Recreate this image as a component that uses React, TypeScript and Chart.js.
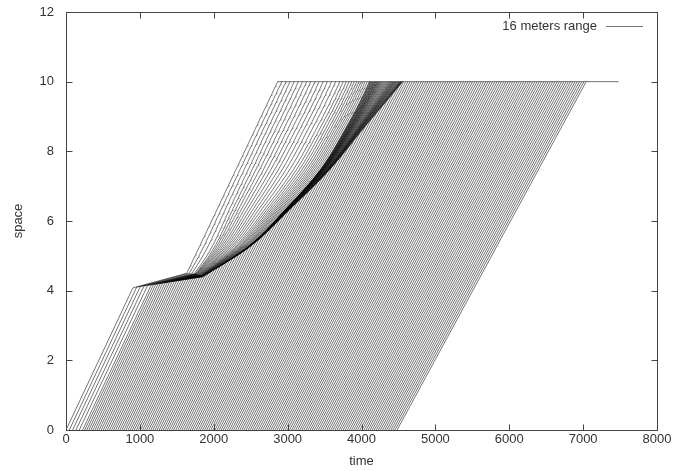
import React, { useEffect, useRef } from "react";
import { Chart, registerables } from "chart.js";

Chart.register(...registerables);

// ---------------- values ----------------
const seriesLabel = "16 meters range";

// time (ms) at which each vehicle is at space 0
const departureTimes = [
  0, 45, 90, 135, 180, 225, 253, 281, 309, 337, 365, 393, 421, 449, 477, 505, 533, 561, 589, 617,
  645, 673, 701, 729, 757, 785, 813, 841, 869, 897, 925, 953, 981, 1009, 1037, 1065, 1093, 1121,
  1149, 1177, 1205, 1233, 1261, 1289, 1317, 1345, 1373, 1401, 1429, 1457, 1485, 1513, 1541, 1569,
  1597, 1625, 1653, 1681, 1709, 1737, 1765, 1793, 1821, 1849, 1877, 1905, 1933, 1961, 1989, 2017,
  2045, 2073, 2101, 2129, 2157, 2185, 2213, 2241, 2269, 2297, 2325, 2353, 2381, 2409, 2437, 2465,
  2493, 2521, 2549, 2577, 2605, 2633, 2661, 2689, 2717, 2745, 2773, 2801, 2829, 2857, 2885, 2913,
  2941, 2969, 2997, 3025, 3053, 3081, 3109, 3137, 3165, 3193, 3221, 3249, 3277, 3305, 3333, 3361,
  3389, 3417, 3445, 3473, 3501, 3529, 3557, 3585, 3613, 3641, 3669, 3697, 3725, 3753, 3781, 3809,
  3837, 3865, 3893, 3921, 3949, 3977, 4005, 4033, 4061, 4089, 4117, 4145, 4173, 4201, 4229, 4257,
  4285, 4313, 4341, 4369, 4397, 4425, 4453, 4481,
];

// free-flow pace (ms per unit of space) of the first and of the last vehicle
const freePace = [222, 256];

// tail of the queue: where the first and the last queued vehicle slow down
const queueTailTimes = [905, 1851];
const queueTailSpace = [4.08, 4.4];

// queued vehicles: space at which each one leaves the queue, time it reaches space 10
const firstExitTime = 1635;
const queueExitSpace = [
  4.5, 4.5, 4.49, 4.49, 4.48, 4.48, 4.47, 4.47, 4.46, 4.46, 4.46, 4.45, 4.45, 4.45,
  4.44, 4.44, 4.44, 4.43, 4.43, 4.43, 4.42, 4.42, 4.42, 4.41, 4.41, 4.41, 4.4, 4.4,
];
const queueArrivalTimes = [
  2865, 2921, 2977, 3033, 3089, 3145, 3201, 3257, 3313, 3369, 3425, 3481, 3537, 3593,
  3649, 3705, 3751, 3793, 3832, 3868, 3902, 3934, 3964, 3993, 4021, 4049, 4077, 4104,
];
// just after release, the first part of the queue takes this share of the fan's width
const queueSpreadBottom = [0.15, 0.42];

// right edge of the dark band (time at given space)
const bandSpace = [4.4, 5.26, 6.41, 7.47, 8.71, 10.0];
const bandEdgeTimes = [1851, 2486, 3068, 3568, 4050, 4560];
const bandSpreadLinear = 25; // ms per unit
const bandSpreadCubic = 1.8; // ms per unit^3

const targetSpace = 10;
const holdEndTime = 7480;

const xTicks = [0, 1000, 2000, 3000, 4000, 5000, 6000, 7000, 8000];
const yTicks = [0, 2, 4, 6, 8, 10, 12];

const lineColor = "rgba(0,0,0,0.55)";
const textColor = "#333";
const frameColor = "#444";
const fontFamily = '"Liberation Sans", Arial, Helvetica, sans-serif';

// ---------------- helpers ----------------
function monotoneSpline(xs: number[], ys: number[]) {
  const n = xs.length;
  const d: number[] = [];
  for (let i = 0; i < n - 1; i++) d.push((ys[i + 1] - ys[i]) / (xs[i + 1] - xs[i]));
  const m: number[] = new Array(n);
  m[0] = d[0];
  m[n - 1] = d[n - 2];
  for (let i = 1; i < n - 1; i++) m[i] = d[i - 1] * d[i] <= 0 ? 0 : (d[i - 1] + d[i]) / 2;
  for (let i = 0; i < n - 1; i++) {
    if (d[i] === 0) { m[i] = 0; m[i + 1] = 0; continue; }
    const a = m[i] / d[i], b = m[i + 1] / d[i];
    const s = a * a + b * b;
    if (s > 9) { const t = 3 / Math.sqrt(s); m[i] = t * a * d[i]; m[i + 1] = t * b * d[i]; }
  }
  return (x: number) => {
    if (x <= xs[0]) return ys[0] + m[0] * (x - xs[0]);
    if (x >= xs[n - 1]) return ys[n - 1] + m[n - 1] * (x - xs[n - 1]);
    let i = 0;
    while (x > xs[i + 1]) i++;
    const h = xs[i + 1] - xs[i];
    const t = (x - xs[i]) / h;
    const t2 = t * t, t3 = t2 * t;
    return (2 * t3 - 3 * t2 + 1) * ys[i] + (t3 - 2 * t2 + t) * h * m[i] +
      (-2 * t3 + 3 * t2) * ys[i + 1] + (t3 - t2) * h * m[i + 1];
  };
}

function buildTrajectories() {
  const N = departureTimes.length;
  const Q = queueArrivalTimes.length;
  const R = monotoneSpline(bandSpace, bandEdgeTimes);
  const s0 = bandSpace[0];
  const g = (d: number) => (d <= 0 ? 0 : bandSpreadLinear * d + bandSpreadCubic * d * d * d);
  const L = (s: number) => R(s) - g(s - s0);
  const A = (s: number) =>
    firstExitTime + (s - queueExitSpace[0]) * (queueArrivalTimes[0] - firstExitTime) / (targetSpace - queueExitSpace[0]);
  const Ltop = L(targetSpace);
  const c = (queueTailSpace[1] - queueTailSpace[0]) / (queueTailTimes[1] - queueTailTimes[0]);
  const [qu, qe] = queueSpreadBottom;
  const bottomMap = (u: number) => (u < qu ? (u * qe) / qu : qe + ((u - qu) * (1 - qe)) / (1 - qu));
  const grid: number[] = [];
  for (let i = 0; i <= 112; i++) grid.push(Math.round((s0 + i * 0.05) * 100) / 100);

  const all: { x: number; y: number }[][] = [];
  for (let k = 0; k < N; k++) {
    const t0 = departureTimes[k];
    const P = freePace[0] + (freePace[1] - freePace[0]) * k / (N - 1);
    const F = (s: number) => t0 + P * s;
    const pts: { x: number; y: number }[] = [{ x: t0, y: 0 }];
    if (k < Q) {
      const ks = (queueTailSpace[0] + (t0 - queueTailTimes[0]) * c) / (1 - P * c);
      const kt = F(ks);
      pts.push({ x: kt, y: ks });
      const u = Math.min(1, (queueArrivalTimes[k] - queueArrivalTimes[0]) / (Ltop - queueArrivalTimes[0]));
      const ub = bottomMap(u);
      const path = (s: number) => {
        const lam = Math.min(1, Math.max(0, (s - s0) / (targetSpace - s0)));
        const w = 1 - Math.pow(1 - lam, 4);
        const ue = (1 - w) * ub + w * u;
        return Math.max(F(s), A(s) + ue * (L(s) - A(s)));
      };
      const sx = queueExitSpace[k];
      pts.push({ x: Math.max(kt, path(sx)), y: sx });
      for (const s of grid) if (s > sx + 1e-9) pts.push({ x: path(s), y: s });
    } else if (F(targetSpace) < R(targetSpace)) {
      let lo = s0, hi = targetSpace;
      for (let i = 0; i < 40; i++) {
        const mid = (lo + hi) / 2;
        if (F(mid) > R(mid)) lo = mid; else hi = mid;
      }
      const sm = (lo + hi) / 2;
      pts.push({ x: F(sm), y: sm });
      for (const s of grid)
        if (s > sm + 1e-9) pts.push({ x: Math.max(F(s), R(s) - g(s - sm)), y: s });
    } else {
      pts.push({ x: F(targetSpace), y: targetSpace });
    }
    if (k === 0) pts.push({ x: holdEndTime, y: targetSpace });
    all.push(pts);
  }
  return all;
}

const framePlugin = {
  id: "gnuplotFrame",
  afterDraw(chart: any) {
    const { ctx, chartArea, scales } = chart;
    const { left, right, top, bottom } = chartArea;
    const x = scales.x, y = scales.y;
    ctx.save();
    ctx.strokeStyle = frameColor;
    ctx.lineWidth = 1;
    const l = Math.round(left) + 0.5, r = Math.round(right) + 0.5;
    const t = Math.round(top) + 0.5, b = Math.round(bottom) + 0.5;
    ctx.strokeRect(l, t, r - l, b - t);
    ctx.beginPath();
    for (const v of xTicks) {
      const px = Math.round(x.getPixelForValue(v)) + 0.5;
      ctx.moveTo(px, b); ctx.lineTo(px, b - 6);
      ctx.moveTo(px, t); ctx.lineTo(px, t + 6);
    }
    for (const v of yTicks) {
      const py = Math.round(y.getPixelForValue(v)) + 0.5;
      ctx.moveTo(l, py); ctx.lineTo(l + 6, py);
      ctx.moveTo(r, py); ctx.lineTo(r - 6, py);
    }
    ctx.stroke();
    // gnuplot-style key
    ctx.font = `13px ${fontFamily}`;
    ctx.fillStyle = textColor;
    ctx.textAlign = "right";
    ctx.textBaseline = "middle";
    const ky = Math.round(top) + 14;
    ctx.fillText(chart.data.datasets[0].label, right - 60, ky);
    ctx.strokeStyle = lineColor;
    ctx.beginPath();
    ctx.moveTo(right - 51, ky + 0.5);
    ctx.lineTo(right - 14, ky + 0.5);
    ctx.stroke();
    ctx.restore();
  },
};

export default function App() {
  const ref = useRef<HTMLCanvasElement | null>(null);
  useEffect(() => {
    document.body.style.margin = "0";
    const canvas = ref.current;
    if (!canvas) return;
    const trajectories = buildTrajectories();
    const datasets = trajectories.map((pts, i) => ({
      label: i === 0 ? seriesLabel : "",
      data: pts,
      showLine: true,
      borderColor: lineColor,
      borderWidth: 1,
      pointRadius: 0,
      pointHoverRadius: 0,
      fill: false,
      tension: 0,
    }));
    const tickFont = { family: fontFamily, size: 13 };
    const chart = new Chart(canvas, {
      type: "scatter",
      data: { datasets },
      options: {
        animation: false,
        responsive: false,
        devicePixelRatio: 1,
        events: [],
        layout: { padding: { top: 12, right: 19, left: 0, bottom: 0 } },
        plugins: { legend: { display: false }, tooltip: { enabled: false } },
        scales: {
          x: {
            type: "linear",
            min: 0,
            max: 8000,
            afterBuildTicks: (s: any) => { s.ticks = xTicks.map((v) => ({ value: v })); },
            ticks: { color: textColor, font: tickFont, padding: 2, maxRotation: 0, autoSkip: false, callback: (v: any) => String(v) },
            grid: { display: false, drawTicks: false },
            border: { display: false },
            title: { display: true, text: "time", color: textColor, font: tickFont, padding: { top: 0, bottom: 2 } },
            afterFit: (s: any) => { s.height = 41; },
          },
          y: {
            type: "linear",
            min: 0,
            max: 12,
            afterBuildTicks: (s: any) => { s.ticks = yTicks.map((v) => ({ value: v })); },
            ticks: { color: textColor, font: tickFont, padding: 12, autoSkip: false, callback: (v: any) => String(v) },
            grid: { display: false, drawTicks: false },
            border: { display: false },
            title: { display: true, text: "space", color: textColor, font: tickFont, padding: { top: 11, bottom: 0 } },
            afterFit: (s: any) => { s.width = 66; s.paddingTop = 0; s.paddingBottom = 0; },
          },
        },
      },
      plugins: [framePlugin],
    } as any);
    return () => chart.destroy();
  }, []);
  return <canvas ref={ref} width={676} height={471} style={{ display: "block" }} />;
}
